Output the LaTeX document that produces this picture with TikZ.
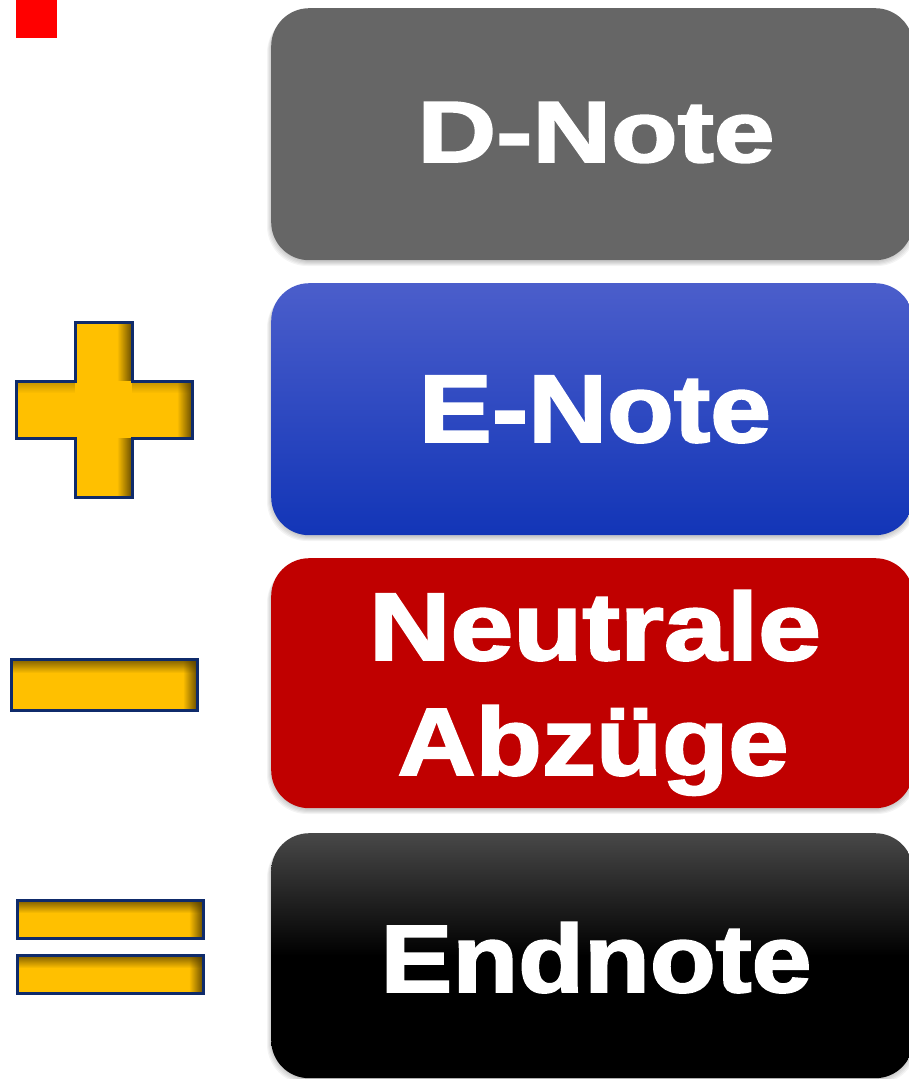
\documentclass[tikz,border=0pt]{standalone}
\usepackage{fontspec}
\setmainfont{Liberation Sans}
\newfontfamily\cardfont{Liberation Sans}[BoldFeatures={FakeBold=2}]
\usetikzlibrary{fadings}
\definecolor{gold}{HTML}{FFC000}
\definecolor{edgenavy}{HTML}{0F2B6B}
\definecolor{goldshade}{HTML}{4F3A00}
\definecolor{cardgray}{HTML}{666666}
\definecolor{blueTop}{HTML}{4B5ECB}
\definecolor{blueBot}{HTML}{1235B7}
\definecolor{cardred}{HTML}{C00000}
\definecolor{blackTop}{HTML}{484848}
\definecolor{marker}{HTML}{FF0000}
\tikzfading[name=darkright, left color=transparent!100, right color=transparent!0]
\tikzfading[name=darktop, top color=transparent!0, bottom color=transparent!100]
% soft shadow under a card: x, y, width, height
\newcommand\cardshadow[4]{%
  \foreach \s in {1,...,5}{%
    \fill[black,opacity=0.045,rounded corners=40pt]
      ({#1-\s+1},{#2+\s}) rectangle ({#1+#3+\s-1},{#2+#4+\s+1});}}
% white label, horizontally stretched: width, font size, text
\newcommand\cardlabel[3]{\resizebox{#1}{\height}{\fontsize{#2}{#2}\selectfont #3}}
\begin{document}
\begin{tikzpicture}[x=1pt,y=-1pt,
  card/.style={rectangle, rounded corners=38pt, inner sep=0pt, anchor=north west,
               minimum width=642pt},
  cardtext/.style={text=white, inner sep=0pt, anchor=base, font=\cardfont\bfseries},
  symedge/.style={draw=edgenavy, line width=3pt, line join=miter},
  rshade/.style={fill=goldshade, path fading=darkright, fill opacity=0.85},
  tshade/.style={fill=goldshade, path fading=darktop, fill opacity=0.75},
]
\useasboundingbox (0,0) rectangle (908,1079);
\fill[white] (0,0) rectangle (908,1079);

% small marker
\fill[marker] (16,0) rectangle (57,38);

% cards
\cardshadow{271}{8}{642}{252}
\node[card, minimum height=252pt, fill=cardgray] (dcard) at (271,8) {};
\cardshadow{271}{283}{642}{252}
\node[card, minimum height=252pt, top color=blueTop, bottom color=blueBot] (ecard) at (271,283) {};
\cardshadow{271}{558}{642}{250}
\node[card, minimum height=250pt, fill=cardred] (ncard) at (271,558) {};
\cardshadow{271}{833}{642}{245}
\node[card, minimum height=245pt, top color=blackTop, bottom color=black, middle color=black] (fcard) at (271,833) {};

% labels
\node[cardtext] (dtext) at (596,162) {\cardlabel{357pt}{87}{D-Note}};
\node[cardtext] (etext) at (595,442) {\cardlabel{352pt}{96}{E-Note}};
\node[cardtext] (ntext1) at (595,660) {\cardlabel{452pt}{96}{Neutrale}};
\node[cardtext] (ntext2) at (593,775) {\cardlabel{391pt}{96}{Abzüge}};
\node[cardtext] (ftext) at (596,992) {\cardlabel{431pt}{96}{Endnote}};

% plus sign
\def\plusshape{(75,322) -- (132,322) -- (132,381) -- (192,381) -- (192,438) -- (132,438)
  -- (132,497) -- (75,497) -- (75,438) -- (16,438) -- (16,381) -- (75,381) -- cycle}
\begin{scope}
  \clip \plusshape;
  \fill[gold] (0,300) rectangle (210,520);
  \fill[tshade, fill opacity=0.35] (16,381) rectangle (75,393);
  \fill[tshade, fill opacity=0.35] (132,381) rectangle (192,393);
  \fill[rshade] (117,322) rectangle (132,381);
  \fill[rshade] (177,381) rectangle (192,438);
  \fill[rshade] (117,438) rectangle (132,497);
\end{scope}
\draw[symedge] \plusshape;

% minus sign
\begin{scope}
  \clip (11,659) rectangle (197,710);
  \fill[gold] (11,659) rectangle (197,710);
  \fill[tshade] (11,659) rectangle (197,673);
  \fill[rshade] (183,659) rectangle (197,710);
\end{scope}
\draw[symedge] (11,659) rectangle (197,710);

% equals sign
\foreach \ya/\yb in {900/938, 955/993}{
  \begin{scope}
    \clip (17,\ya) rectangle (203,\yb);
    \fill[gold] (17,\ya) rectangle (203,\yb);
    \fill[tshade] (17,\ya) rectangle (203,\ya+13);
    \fill[rshade] (189,\ya) rectangle (203,\yb);
  \end{scope}
  \draw[symedge] (17,\ya) rectangle (203,\yb);
}
\end{tikzpicture}
\end{document}
